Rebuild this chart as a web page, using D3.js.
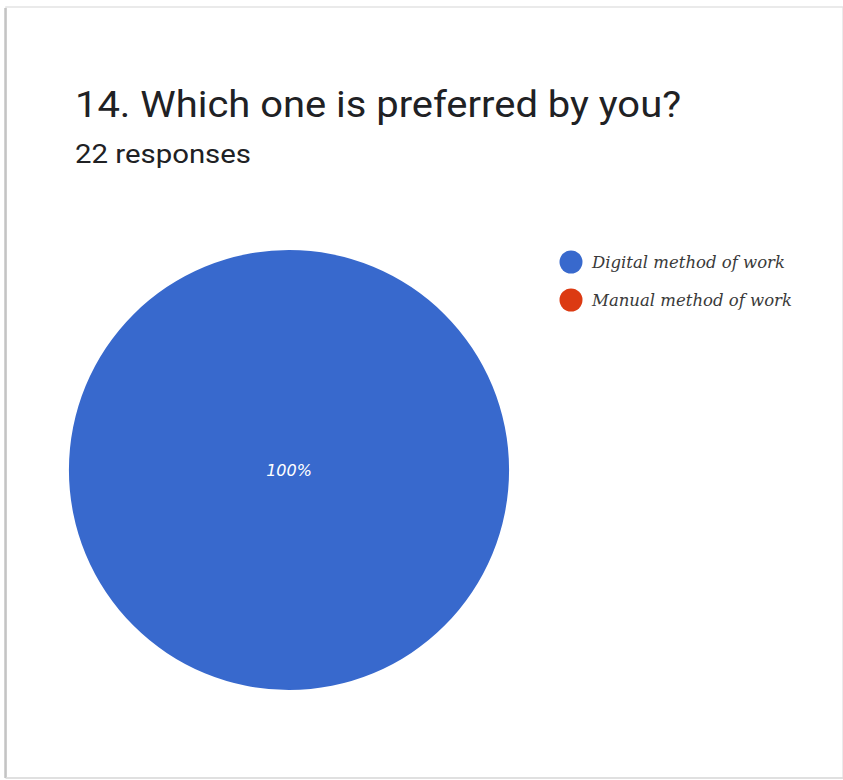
<!DOCTYPE html>
<html>
<head>
<meta charset="utf-8">
<script src="https://cdn.jsdelivr.net/npm/d3@7"></script>
<style>
  html, body { margin: 0; padding: 0; background: #ffffff; }
  svg { display: block; }
</style>
</head>
<body>
<svg id="chart" width="843" height="780"></svg>
<script>
// Survey answers and their counts
const categories = ["Digital method of work", "Manual method of work"];
const counts = [22, 0];
const colors = ["#3869cd", "#dc3a12"];
const title = "14. Which one is preferred by you?";
const subtitle = "22 responses";

const svg = d3.select("#chart");
const W = 843, H = 780;

// card frame: faint outline, darker edge on the left
svg.append("rect")
  .attr("x", 6).attr("y", 7).attr("width", W - 6).attr("height", H - 9)
  .attr("fill", "#fff").attr("stroke", "#e4e4e4").attr("stroke-width", 1.5);
svg.append("line")
  .attr("x1", 5.5).attr("x2", 5.5).attr("y1", 8).attr("y2", H - 2)
  .attr("stroke", "#c4c4c4").attr("stroke-width", 2.5);
svg.append("line")
  .attr("x1", 6).attr("x2", W).attr("y1", H - 2).attr("y2", H - 2)
  .attr("stroke", "#dcdcdc").attr("stroke-width", 1.5);

svg.append("text")
  .attr("x", 75).attr("y", 117)
  .attr("font-family", "Roboto, 'Noto Sans', sans-serif")
  .attr("font-size", 37).attr("fill", "#202124")
  .attr("textLength", 606).attr("lengthAdjust", "spacingAndGlyphs")
  .text(title);

svg.append("text")
  .attr("x", 75).attr("y", 163)
  .attr("font-family", "Roboto, 'Noto Sans', sans-serif")
  .attr("font-size", 26).attr("fill", "#202124")
  .attr("textLength", 176).attr("lengthAdjust", "spacingAndGlyphs")
  .text(subtitle);

// pie
const cx = 289, cy = 470, r = 220;
const total = d3.sum(counts);
const pie = d3.pie().sort(null).value(d => d.value);
const data = categories.map((c, i) => ({ name: c, value: counts[i], color: colors[i] }));
const arcs = pie(data);
const arc = d3.arc().innerRadius(0).outerRadius(r);
const full = a => (a.endAngle - a.startAngle) >= 2 * Math.PI - 1e-6;

const g = svg.append("g").attr("transform", `translate(${cx},${cy})`);
g.selectAll("path").data(arcs.filter(a => a.data.value > 0)).join("path")
  .attr("d", arc)
  .attr("fill", a => a.data.color);

const fmt = d3.format(".0%");
g.selectAll("text.lbl").data(arcs.filter(a => a.data.value > 0)).join("text")
  .attr("class", "lbl")
  .attr("x", a => full(a) ? 0 : arc.centroid(a)[0])
  .attr("y", a => (full(a) ? 0 : arc.centroid(a)[1]) + 6)
  .attr("text-anchor", "middle")
  .attr("font-family", "'DejaVu Sans', sans-serif")
  .attr("font-style", "italic")
  .attr("font-size", 16).attr("fill", "#ffffff")
  .text(a => fmt(a.data.value / total));

// legend
const legend = svg.append("g").attr("transform", "translate(571,262)");
const item = legend.selectAll("g").data(data).join("g")
  .attr("transform", (d, i) => `translate(0,${i * 38})`);
item.append("circle").attr("r", 11.5).attr("fill", d => d.color);
item.append("text")
  .attr("x", 21).attr("y", 6)
  .attr("font-family", "'DejaVu Serif', serif")
  .attr("font-style", "italic")
  .attr("font-size", 16.5).attr("fill", "#3a3a3a")
  .text(d => d.name);
</script>
</body>
</html>
